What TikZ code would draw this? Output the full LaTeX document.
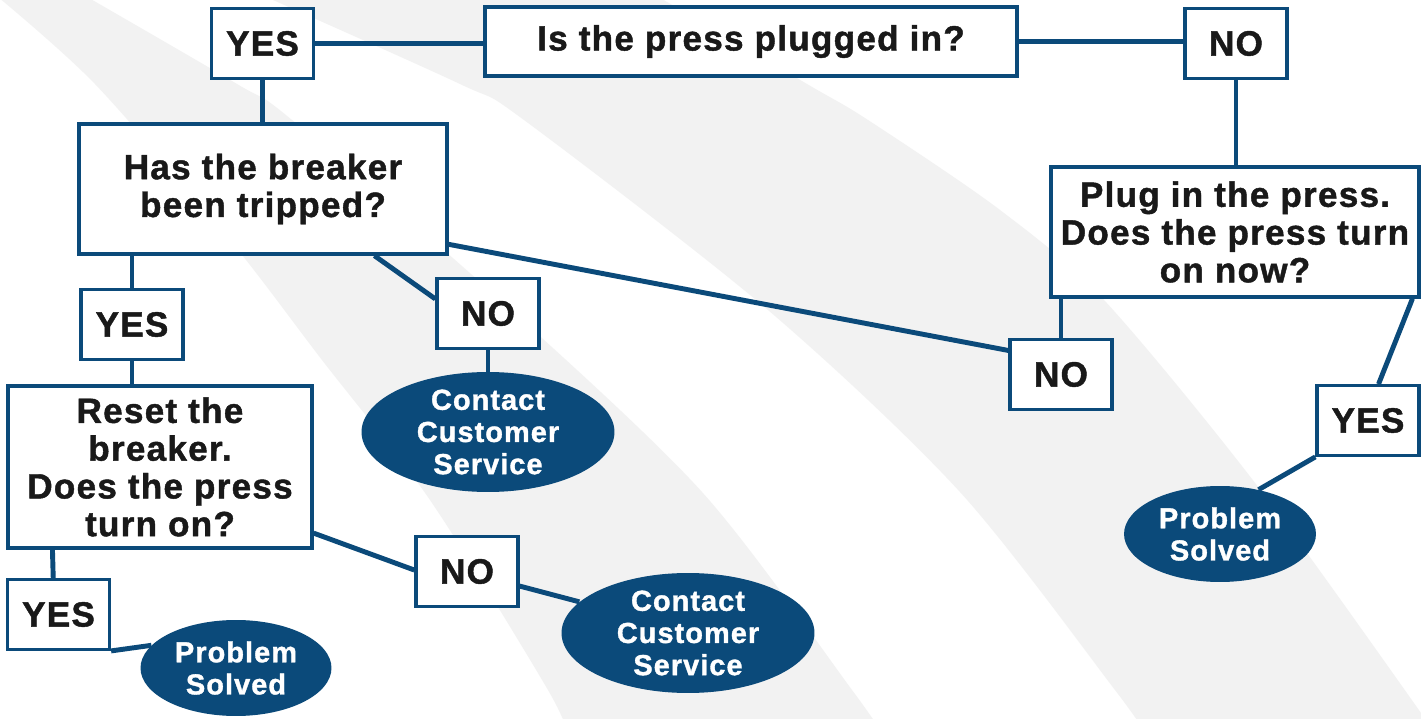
\documentclass[tikz,border=0pt]{standalone}
\usepackage{fontspec}
\setmainfont{Liberation Sans}[LetterSpace=3.5, BoldFeatures={FakeBold=1.2}]
\usepackage{tikz}
\usetikzlibrary{calc,shapes.geometric}
\definecolor{pressblue}{RGB}{11,74,122}
\definecolor{bandgray}{RGB}{242,242,242}

\begin{document}
\begin{tikzpicture}[x=0.02cm, y=-0.02cm,
  qbox/.style={draw=pressblue, line width=1.9pt, fill=white, align=center, inner sep=0pt, text=black!90, font=\fontsize{20}{21.5}\selectfont\bfseries},
  ans/.style={qbox, minimum width=2.04cm, minimum height=1.39cm},
  endoval/.style={ellipse, fill=pressblue, text=white, align=center, inner sep=0pt, font=\fontsize{16.5}{18.3}\selectfont\bfseries},
  link/.style={pressblue, line width=2.8pt}]

  \begin{scope}
    \clip (0,0) rectangle (1421,719);
    \fill[white] (0,0) rectangle (1421,719);
    \fill[bandgray] plot[smooth] coordinates {(-8,-8) (95,84) (230,240) (322,360) (430,500) (548,690) (570,740)}
      -- plot[smooth] coordinates {(890,745) (852,690) (702,492) (500,300) (292,120) (237,84) (75,-10)} -- cycle;
    \fill[bandgray] plot[smooth] coordinates {(255,-8) (460,84) (524,120) (768,310) (960,492) (1115,690) (1150,740)}
      -- plot[smooth] coordinates {(1440,740) (1262,492) (1104,300) (1000,210) (868,120) (807,84) (650,-8)} -- cycle;
  \end{scope}
  \useasboundingbox (0,0) rectangle (1421,719);

  \node[qbox, minimum width=10.64cm, minimum height=1.38cm] (plugged) at (751,41.5) {Is the press plugged in?};
  \node[ans] (yes1) at (262.5,43.5) {YES};
  \node[ans] (no1) at (1236,43.5) {NO};
  \node[qbox, minimum width=7.36cm, minimum height=2.6cm] (breaker) at (263,189) {Has the breaker\\been tripped?};
  \node[ans] (yes2) at (132,324.5) {YES};
  \node[ans] (no2) at (488,313.5) {NO};
  \node[endoval, minimum width=5.06cm, minimum height=2.24cm] (cs1) at (488,432) {Contact\\Customer\\Service};
  \node[qbox, minimum width=6.08cm, minimum height=3.24cm] (reset) at (160,467) {Reset the\\breaker.\\Does the press\\turn on?};
  \node[ans] (yes3) at (58.5,614.5) {YES};
  \node[endoval, minimum width=3.82cm, minimum height=1.92cm] (solved1) at (236,668) {Problem\\Solved};
  \node[ans] (no3) at (467,571.5) {NO};
  \node[endoval, minimum width=5.06cm, minimum height=2.26cm] (cs2) at (688,633) {Contact\\Customer\\Service};
  \node[qbox, minimum width=7.36cm, minimum height=2.6cm] (plugin) at (1235,232) {Plug in the press.\\Does the press turn\\on now?};
  \node[ans] (no4) at (1061,374.5) {NO};
  \node[ans] (yes4) at (1368,420.5) {YES};
  \node[endoval, minimum width=3.84cm, minimum height=1.92cm] (solved2) at (1220,534) {Problem\\Solved};

  \draw[link] (yes1.east) -- (yes1.east -| plugged.west);
  \draw[link] (plugged.east) -- (plugged.east -| no1.west);
  \draw[link] (yes1.south) -- (yes1.south |- breaker.north);
  \draw[link] (breaker.south -| yes2.north) -- (yes2.north);
  \draw[link] ($(breaker.south west)!0.8!(breaker.south east)$) -- ($(no2.north west)!0.3!(no2.south west)$);
  \draw[link] (no2.south) -- (cs1.north);
  \draw[link] (yes2.south) -- (yes2.south |- reset.north);
  \draw[link] ($(reset.south west)!0.15!(reset.south east)$) -- ($(yes3.north west)!0.45!(yes3.north east)$);
  \draw[link] (yes3.south east) -- (solved1.165);
  \draw[link] ($(reset.north east)!0.9!(reset.south east)$) -- ($(no3.north west)!0.48!(no3.south west)$);
  \draw[link] ($(no3.north east)!0.7!(no3.south east)$) -- (cs2.164);
  \draw[link] (no1.south) -- (no1.south |- plugin.north);
  \draw[link] (plugin.south -| no4.north) -- (no4.north);
  \draw[link] ($(breaker.north east)!0.915!(breaker.south east)$) -- ($(no4.north west)!0.17!(no4.south west)$);
  \draw[link] ($(plugin.south west)!0.978!(plugin.south east)$) -- ($(yes4.north west)!0.6!(yes4.north east)$);
  \draw[link] (yes4.south west) -- (solved2.49);
\end{tikzpicture}
\end{document}
